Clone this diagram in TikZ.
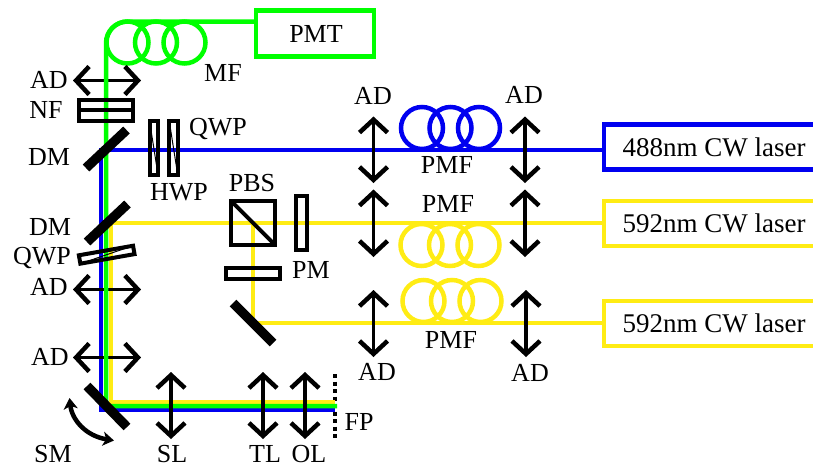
\documentclass[tikz,border=0pt]{standalone}
\usepackage{fontspec}
\setmainfont{Liberation Serif}
\usetikzlibrary{positioning, arrows.meta}

\definecolor{fibgreen}{RGB}{0,255,0}
\definecolor{fibblue}{RGB}{0,0,240}
\definecolor{fibyellow}{RGB}{255,236,20}

\begin{document}
\begin{tikzpicture}[
    x=1pt, y=-1pt,
    every node/.style = {font=\fontsize{26}{28}\selectfont, inner sep=0pt, outer sep=0pt},
    coil/.style = {circle, draw=#1, line width=4.5pt, minimum size=42pt},
    laser/.style = {rectangle, draw=#1, line width=4.5pt, minimum width=220pt, minimum height=45pt,
                    font=\fontsize{27}{29}\selectfont},
    plate/.style = {rectangle, draw, line width=4pt},
    ]
            % styles
            \tikzstyle{beam} = [line width=4.5pt, line cap=butt]
            \tikzstyle{mirror} = [line width=9.5pt, draw=black]
            \tikzstyle{adarrow} = [line width=3.5pt, draw=black, {Straight Barb[length=13pt,width=28pt,line width=4.5pt]}-{Straight Barb[length=13pt,width=28pt,line width=4.5pt]}]
            \tikzstyle{smarrow} = [line width=4.5pt, draw=black, {Stealth[length=11pt,width=14pt,inset=3pt]}-{Stealth[length=11pt,width=14pt,inset=3pt]}]

            \useasboundingbox (0,0) rectangle (813,467);
            \clip (0,0) rectangle (813,467);

            % lasers and detector
            \node (pmt) at (315,33.7) [rectangle, draw=fibgreen, line width=4.5pt, minimum width=118pt, minimum height=46pt] {\hspace{2pt}PMT};
            \node (blaser) at (714,147) [laser=fibblue] {488nm CW laser};
            \node (ylaser) at (714,223.7) [laser=fibyellow] {592nm CW laser};
            \node (ylaserb) at (714,323.5) [laser=fibyellow] {592nm CW laser};

            % fibre coils
            \node (gcoila) at (127.5,42.5) [coil=fibgreen] {};
            \node (gcoilb) [coil=fibgreen, right=-13.5pt of gcoila] {};
            \node (gcoilc) [coil=fibgreen, right=-13.5pt of gcoilb] {};
            \node (bcoila) at (422,128) [coil=fibblue] {};
            \node (bcoilb) [coil=fibblue, right=-13.5pt of bcoila] {};
            \node (bcoilc) [coil=fibblue, right=-13.5pt of bcoilb] {};
            \node (ycoila) at (421.5,245) [coil=fibyellow] {};
            \node (ycoilb) [coil=fibyellow, right=-13.5pt of ycoila] {};
            \node (ycoilc) [coil=fibyellow, right=-13.5pt of ycoilb] {};
            \node (zcoila) at (423.5,301) [coil=fibyellow] {};
            \node (zcoilb) [coil=fibyellow, right=-13.5pt of zcoila] {};
            \node (zcoilc) [coil=fibyellow, right=-13.5pt of zcoilb] {};

            % focal plane
            \coordinate (fpt) at (335,374); \coordinate (fpb) at (335,439);
            \draw [line width=4.5pt, dash pattern=on 4pt off 3.5pt] (fpt) -- (fpb);

            % beam corners
            \coordinate (gdown) at (106,406);
            \coordinate (gend) at (337,406);
            \coordinate (bcorner) at (101,150);
            \coordinate (bdown) at (101,410);
            \coordinate (bend) at (335,410);
            \coordinate (ycorner) at (111,223);
            \coordinate (ydown) at (111,402);
            \coordinate (yend) at (335,402);
            \coordinate (zcorner) at (253,323);
            \coordinate (ztop) at (253,223);

            \draw [beam, draw=fibyellow] (ylaser.west |- ycorner) -- (ycorner) -- (ydown) -- (yend);
            \draw [beam, draw=fibyellow] (ylaserb.west |- zcorner) -- (zcorner) -- (ztop);
            \draw [beam, draw=fibblue] (blaser.west |- bcorner) -- (bcorner) -- (bdown) -- (bend);

            % adjusters across the vertical beams
            \coordinate (adal) at (73,80.5); \coordinate (adar) at (141,80.5);
            \coordinate (adbl) at (73,289.5); \coordinate (adbr) at (141,289.5);
            \coordinate (adcl) at (73,357.5); \coordinate (adcr) at (141,357.5);
            \foreach \a/\b in {adal/adar, adbl/adbr, adcl/adcr}
                \draw [adarrow] (\a) -- (\b);

            \draw [beam, draw=fibgreen] (pmt.west |- gcoila.north) [rounded corners=21.5pt] -- (gdown |- gcoila.north) [sharp corners] -- (gdown) -- (gend);

            % optics
            \node (nf) at (106.2,110.2) [plate, minimum width=54pt, minimum height=21pt] {};
            \draw [line width=3.5pt] (nf.west) -- (nf.east);
            \node (hwp) at (153.8,148) [plate, minimum width=8.5pt, minimum height=54pt] {};
            \node (qwpa) at (173.5,148) [plate, minimum width=8.5pt, minimum height=54pt] {};
            \draw [line width=1pt] (hwp.north west) -- (hwp.south east);
            \draw [line width=1pt] (qwpa.north west) -- (qwpa.south east);
            \node (qwpb) at (106.7,254.7) [plate, rotate=10, minimum width=55pt, minimum height=8.5pt] {};
            \draw [line width=1pt] (qwpb.south west) -- (qwpb.north east);
            \node (pbs) at (253.3,223.2) [plate, minimum width=44pt, minimum height=44pt] {};
            \draw [line width=4pt] (pbs.north west) -- (pbs.south east);
            \node (pm) at (301.7,223.3) [plate, minimum width=10.7pt, minimum height=54pt] {};
            \node (pbsplate) at (253.2,273.5) [plate, minimum width=53.7pt, minimum height=11pt] {};

            % mirrors
            \coordinate (dmaa) at (86,168); \coordinate (dmab) at (126.5,130);
            \coordinate (dmba) at (87,242); \coordinate (dmbb) at (127.5,204);
            \coordinate (mira) at (233,303); \coordinate (mirb) at (273,343);
            \coordinate (sma) at (87,386); \coordinate (smb) at (127,427);
            \draw [mirror] (dmaa) -- (dmab);
            \draw [mirror] (dmba) -- (dmbb);
            \draw [mirror] (mira) -- (mirb);
            \draw [mirror] (sma) -- (smb);

            % adjusters
            \coordinate (slt) at (171,372); \coordinate (slb) at (171,439);
            \coordinate (tlt) at (263,372); \coordinate (tlb) at (263,439);
            \coordinate (olt) at (305,372); \coordinate (olb) at (305,439);
            \coordinate (bat) at (373.5,116.5); \coordinate (bab) at (373.5,183);
            \coordinate (bbt) at (525,116.5); \coordinate (bbb) at (525,183);
            \coordinate (yat) at (373.5,189.5); \coordinate (yab) at (373.5,257);
            \coordinate (ybt) at (525,189.5); \coordinate (ybb) at (525,257);
            \coordinate (zat) at (373.5,290); \coordinate (zab) at (373.5,357);
            \coordinate (zbt) at (526,290); \coordinate (zbb) at (526,357);
            \foreach \a/\b in {slt/slb, tlt/tlb, olt/olb, bat/bab, bbt/bbb,
                               yat/yab, ybt/ybb, zat/zab, zbt/zbb}
                \draw [adarrow] (\a) -- (\b);

            % scan mirror motion
            \coordinate (swinga) at (69.5,398); \coordinate (swingb) at (114,440.5);
            \draw [smarrow] (swinga) .. controls (72,420) and (86,436) .. (swingb);

            % labels
            \node (lmf) at (223,73) {MF};
            \node (lada) at (49,80) {AD};
            \node (lnf) at (46,110) {NF};
            \node (ldma) at (49,157) {DM};
            \node (ldmb) at (50,227) {DM};
            \node (lqwpa) at (218,129) {QWP};
            \node (lhwp) at (179,192) {HWP};
            \node (lqwpb) at (42,258) {QWP};
            \node (ladb) at (49,287) {AD};
            \node (ladc) at (50,357) {AD};
            \node (lpbs) at (252,183) {PBS};
            \node (lpm) at (311,270) {PM};
            \node (lsm) at (53,454) {SM};
            \node (lsl) at (172,454) {SL};
            \node (ltl) at (265,454) {TL};
            \node (lol) at (309,454) {OL};
            \node (lfp) at (359,422) {FP};
            \node (lbat) at (373,96) {AD};
            \node (lbbt) at (524,95) {AD};
            \node (lzab) at (377,372) {AD};
            \node (lzbb) at (530,373) {AD};
            \node (lpmfa) at (447,165) {PMF};
            \node (lpmfb) at (448,204) {PMF};
            \node (lpmfc) at (451,340) {PMF};
    \end{tikzpicture}
\end{document}
